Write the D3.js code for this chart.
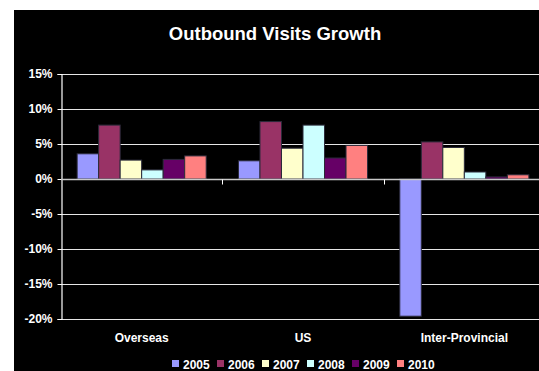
<!DOCTYPE html>
<html>
<head>
<meta charset="utf-8">
<script src="https://cdn.jsdelivr.net/npm/d3@7"></script>
<style>
  html, body { margin: 0; padding: 0; background: #ffffff; }
  svg { display: block; }
  text { font-family: "Liberation Sans", Arial, sans-serif; font-weight: bold; fill: #ffffff; }
</style>
</head>
<body>
<svg id="chart" width="539" height="371"></svg>
<script>
// Outbound visits growth by destination, 2005-2010 (percent)
const categories = ["Overseas", "US", "Inter-Provincial"];
const years = ["2005", "2006", "2007", "2008", "2009", "2010"];
const growth2005 = [3.6, 2.6, -19.6];
const growth2006 = [7.7, 8.2, 5.3];
const growth2007 = [2.7, 4.4, 4.5];
const growth2008 = [1.3, 7.7, 1.0];
const growth2009 = [2.8, 3.0, 0.3];
const growth2010 = [3.3, 4.8, 0.6];
const yTicks = [15, 10, 5, 0, -5, -10, -15, -20];
const yearColors = ["#9999ff", "#993366", "#ffffcc", "#ccffff", "#660066", "#ff8080"];

const seriesValues = [growth2005, growth2006, growth2007, growth2008, growth2009, growth2010];
const rows = [];
years.forEach((yr, i) => {
  categories.forEach((cat, j) => rows.push({ year: yr, cat: cat, value: seriesValues[i][j] }));
});

const svg = d3.select("#chart");

// black chart background
svg.append("rect").attr("x", 14).attr("y", 10).attr("width", 540).attr("height", 370).attr("fill", "#000000");

const plot = { left: 61, right: 545, top: 74, bottom: 319 };

const x = d3.scaleBand().domain(categories).range([plot.left, plot.right]).padding(0);
const groupGap = x.bandwidth() * 0.1;
const xYear = d3.scaleBand().domain(years).range([groupGap, x.bandwidth() - groupGap]).padding(0);
const y = d3.scaleLinear().domain([-20, 15]).range([plot.bottom, plot.top]);
const color = d3.scaleOrdinal().domain(years).range(yearColors);

// title
svg.append("text")
  .attr("x", 275).attr("y", 40)
  .attr("text-anchor", "middle")
  .style("font-size", "18.5px")
  .text("Outbound Visits Growth");

// horizontal gridlines
svg.append("g")
  .selectAll("line")
  .data(yTicks.filter(t => t !== 0))
  .join("line")
  .attr("x1", plot.left).attr("x2", plot.right)
  .attr("y1", d => Math.round(y(d)) + 0.5).attr("y2", d => Math.round(y(d)) + 0.5)
  .attr("stroke", "#e6e6e6").attr("stroke-width", 1.2);

// bars
svg.append("g")
  .selectAll("rect")
  .data(rows)
  .join("rect")
  .attr("x", d => x(d.cat) + xYear(d.year))
  .attr("width", xYear.bandwidth())
  .attr("y", d => y(Math.max(0, d.value)))
  .attr("height", d => Math.abs(y(d.value) - y(0)))
  .attr("fill", d => color(d.year))
  .attr("stroke", "#2b2b3a")
  .attr("stroke-width", 1);

// y axis
const yAxis = d3.axisLeft(y)
  .tickValues(yTicks)
  .tickSize(4)
  .tickPadding(5)
  .tickFormat(d => d + "%");
const yg = svg.append("g").attr("transform", `translate(${plot.left + 0.5},0)`).call(yAxis);
yg.select(".domain").attr("stroke", "#ffffff").attr("stroke-width", 1.2);
yg.selectAll(".tick line").attr("stroke", "#ffffff");
yg.selectAll(".tick text").style("font-size", "12px").attr("fill", "#ffffff");

// zero line with category separators
const zeroY = Math.round(y(0)) + 0.5;
svg.append("line")
  .attr("x1", plot.left).attr("x2", plot.right)
  .attr("y1", zeroY).attr("y2", zeroY)
  .attr("stroke", "#c8c8c8").attr("stroke-width", 1.4);
svg.append("g")
  .selectAll("line")
  .data(categories.slice(1))
  .join("line")
  .attr("x1", d => Math.round(x(d)) + 0.5).attr("x2", d => Math.round(x(d)) + 0.5)
  .attr("y1", zeroY).attr("y2", zeroY + 5)
  .attr("stroke", "#ffffff");

// category labels
svg.append("g")
  .selectAll("text")
  .data(categories)
  .join("text")
  .attr("x", d => x(d) + x.bandwidth() / 2)
  .attr("y", 342)
  .attr("text-anchor", "middle")
  .style("font-size", "12px")
  .text(d => d);

// legend
const legend = svg.append("g")
  .selectAll("g")
  .data(years)
  .join("g")
  .attr("transform", (d, i) => `translate(${172 + i * 45},360)`);
legend.append("rect")
  .attr("width", 7).attr("height", 7)
  .attr("fill", d => color(d));
legend.append("text")
  .attr("x", 11).attr("y", 8.5)
  .style("font-size", "12px")
  .text(d => d);
</script>
</body>
</html>
